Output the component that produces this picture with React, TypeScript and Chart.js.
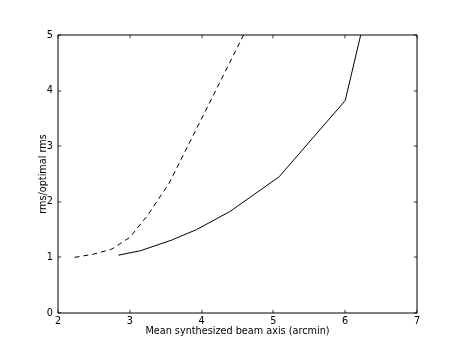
import React, { useEffect, useRef } from "react";
import { Chart, registerables } from "chart.js";

Chart.register(...registerables);

// Solid curve
const solidX = [2.84, 3.15, 3.58, 3.93, 4.4, 5.08, 6.0, 6.3];
const solidY = [1.04, 1.12, 1.31, 1.5, 1.83, 2.45, 3.82, 5.46];
// Dashed curve
const dashedX = [2.23, 2.5, 2.75, 3.0, 3.25, 3.55, 4.2, 4.7];
const dashedY = [1.0, 1.06, 1.15, 1.36, 1.76, 2.34, 4.01, 5.3];

const xTicks = [2, 3, 4, 5, 6, 7];
const yTicks = [0, 1, 2, 3, 4, 5];
const xTitle = "Mean synthesized beam axis (arcmin)";
const yTitle = "rms/optimal rms";

const FONT = "'DejaVu Sans', sans-serif";
const FS = 9.7;

const frame = {
  id: "mplFrame",
  afterDatasetsDraw(chart: any) {
    const { ctx, chartArea: a, scales } = chart;
    const L = Math.round(a.left), R = Math.round(a.right), T = Math.round(a.top), B = Math.round(a.bottom);
    ctx.save();
    ctx.strokeStyle = "#000";
    ctx.lineWidth = 1;
    ctx.beginPath();
    ctx.rect(L, T, R - L, B - T);
    ctx.stroke();
    ctx.lineWidth = 0.8;
    ctx.beginPath();
    const tl = 3.2;
    for (const v of xTicks) {
      const px = Math.round(scales.x.getPixelForValue(v));
      ctx.moveTo(px, B);
      ctx.lineTo(px, B - tl);
      ctx.moveTo(px, T);
      ctx.lineTo(px, T + tl);
    }
    for (const v of yTicks) {
      const py = Math.round(scales.y.getPixelForValue(v));
      ctx.moveTo(L, py);
      ctx.lineTo(L + tl, py);
      ctx.moveTo(R, py);
      ctx.lineTo(R - tl, py);
    }
    ctx.stroke();
    ctx.restore();
  },
};

export default function App() {
  const ref = useRef<HTMLCanvasElement | null>(null);
  useEffect(() => {
    document.body.style.margin = "0";
    const canvas = ref.current;
    if (!canvas) return;
    const chart = new Chart(canvas, {
      type: "scatter",
      data: {
        datasets: [
          {
            data: solidX.map((x, i) => ({ x, y: solidY[i] })),
            showLine: true,
            borderColor: "#000",
            borderWidth: 1,
            pointRadius: 0,
            tension: 0,
          },
          {
            data: dashedX.map((x, i) => ({ x, y: dashedY[i] })),
            showLine: true,
            borderColor: "#000",
            borderWidth: 1,
            borderDash: [5, 4],
            pointRadius: 0,
            tension: 0,
          },
        ],
      },
      options: {
        responsive: false,
        animation: false,
        devicePixelRatio: 1,
        layout: { padding: { left: 0, right: 46, top: 35, bottom: 0 } },
        plugins: { legend: { display: false }, tooltip: { enabled: false } },
        scales: {
          x: {
            type: "linear",
            min: 2,
            max: 7,
            afterBuildTicks: (s: any) => {
              s.ticks = xTicks.map((v) => ({ value: v }));
            },
            afterFit: (s: any) => {
              s.height = 35;
            },
            grid: { display: false, drawTicks: false },
            border: { display: false },
            ticks: {
              color: "#000",
              padding: 3,
              font: { family: FONT, size: FS },
              maxRotation: 0,
            },
            title: {
              display: true,
              text: xTitle,
              color: "#000",
              font: { family: FONT, size: FS },
              padding: { top: 0, bottom: 11 },
            },
          },
          y: {
            type: "linear",
            min: 0,
            max: 5,
            afterBuildTicks: (s: any) => {
              s.ticks = yTicks.map((v) => ({ value: v }));
            },
            afterFit: (s: any) => {
              s.width = 58;
            },
            grid: { display: false, drawTicks: false },
            border: { display: false },
            ticks: {
              color: "#000",
              padding: 5,
              font: { family: FONT, size: FS },
            },
            title: {
              display: true,
              text: yTitle,
              color: "#000",
              font: { family: FONT, size: FS },
              padding: { top: 38, bottom: 0 },
            },
          },
        },
      },
      plugins: [frame],
    });
    return () => chart.destroy();
  }, []);
  return (
    <div style={{ position: "absolute", left: 0, top: 0, width: 463, height: 348, background: "#fff" }}>
      <canvas ref={ref} width={463} height={348} style={{ display: "block", width: 463, height: 348 }} />
    </div>
  );
}
